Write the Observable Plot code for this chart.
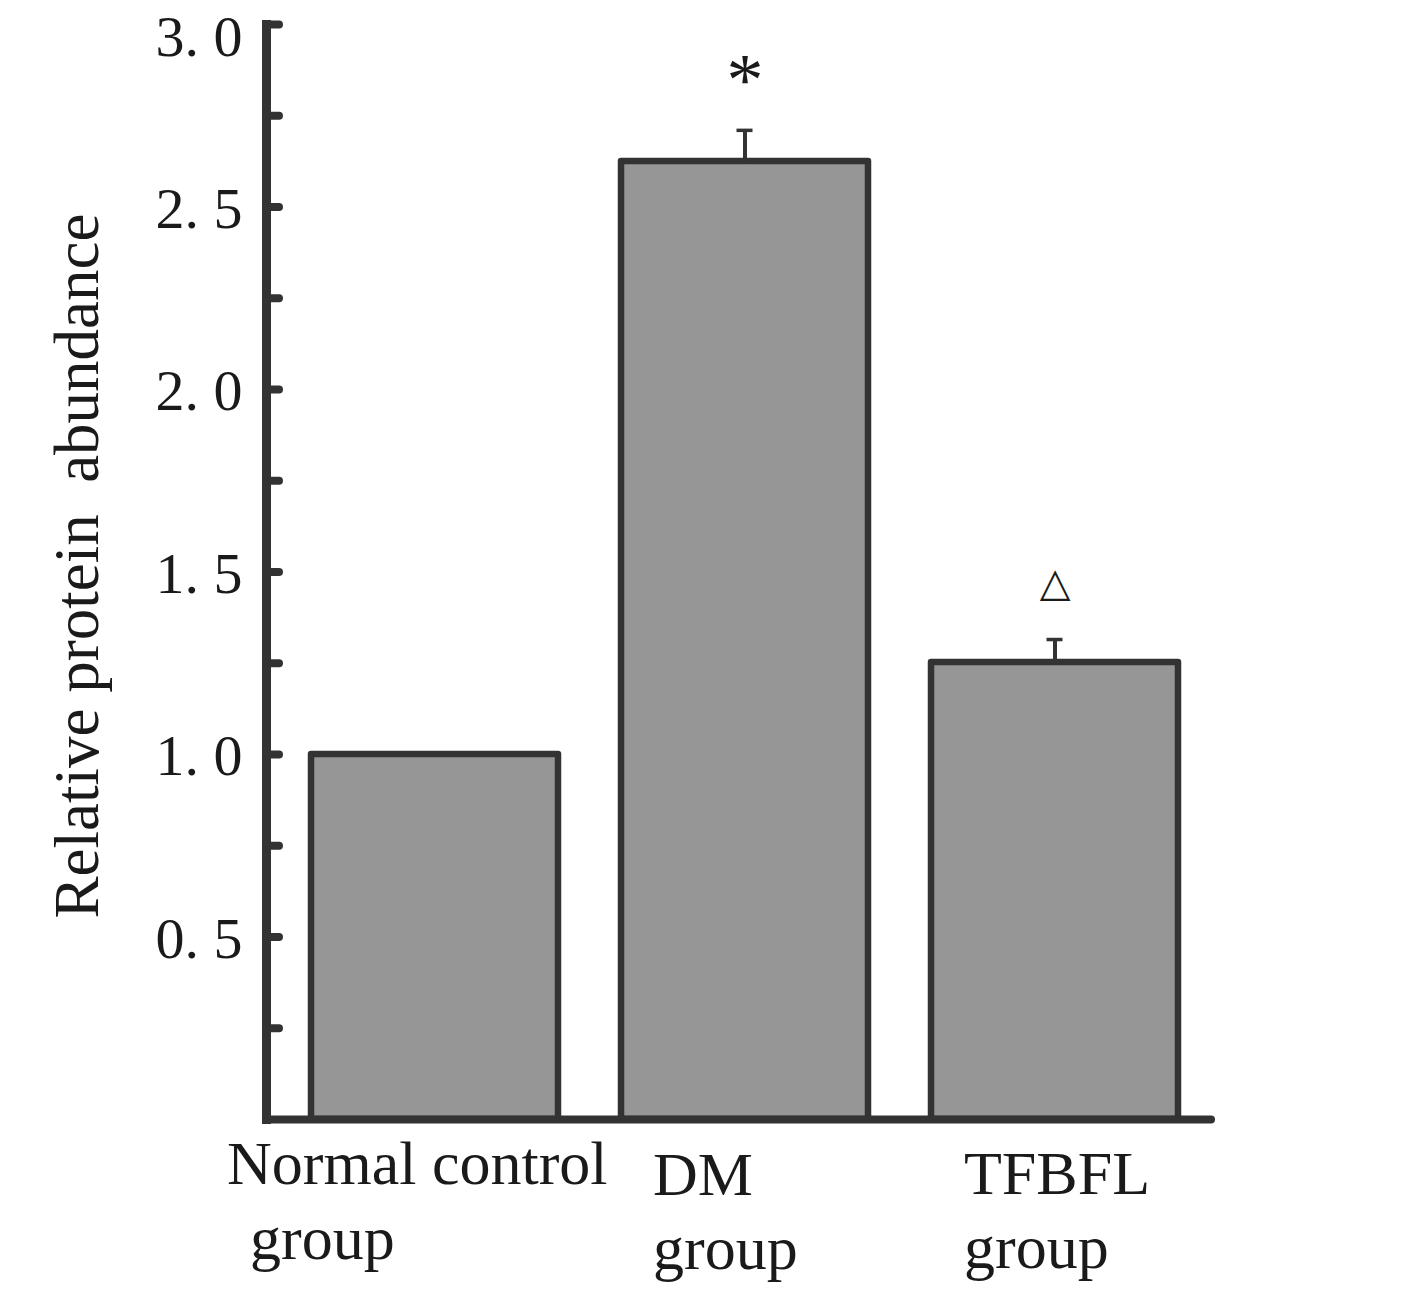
<!DOCTYPE html>
<html>
<head>
<meta charset="utf-8">
<script src="https://cdn.jsdelivr.net/npm/d3@7"></script>
<script src="https://cdn.jsdelivr.net/npm/@observablehq/plot@0.6"></script>
<style>
  html, body { margin: 0; padding: 0; background: #ffffff; }
  #chart svg { display: block; }
</style>
</head>
<body>
<div id="chart"></div>
<script>
// ---- data ----
const categories = ["Normal control group", "DM group", "TFBFL group"];
const labelLine1 = ["Normal control", "DM", "TFBFL"];
const labelLine2 = ["group", "group", "group"];
const means = [1.00, 2.625, 1.252];
const errors = [0, 0.085, 0.063];
const significance = ["", "*", "\u25B3"];
const majorTicks = [0.5, 1.0, 1.5, 2.0, 2.5, 3.0];
const allTicks = [0.25, 0.5, 0.75, 1.0, 1.25, 1.5, 1.75, 2.0, 2.25, 2.5, 2.75, 3.0];
const yLabel = "Relative protein \u00A0abundance";

const rows = categories.map((c, i) => ({
  cat: c, line1: labelLine1[i], line2: labelLine2[i],
  mean: means[i], err: errors[i], top: means[i] + errors[i], sig: significance[i]
}));

// ---- styles ----
const W = 1417, H = 1296;
const mL = 266, mR = 206, mT = 24, mB = 177;
const frameW = W - mL - mR;
const dark = "#333333";
const textColor = "#1a1a1a";
const serif = "'Liberation Serif', 'Times New Roman', serif";
const labelOffsets = [
  {dx1: -208, dy1: 64, dx2: -185, dy2: 139},
  {dx1: -92, dy1: 75, dx2: -92, dy2: 149},
  {dx1: -91, dy1: 74, dx2: -91, dy2: 148}
];
const fmt = d => d.toFixed(1).replace(".", ". ");
const topTick = majorTicks[majorTicks.length - 1];

const labelMarks = rows.flatMap((r, i) => [
  Plot.text([r], {x: "cat", text: "line1", frameAnchor: "bottom", lineAnchor: "bottom",
    textAnchor: "start", dx: labelOffsets[i].dx1, dy: labelOffsets[i].dy1,
    fontSize: 62, fontFamily: serif, fill: textColor}),
  Plot.text([r], {x: "cat", text: "line2", frameAnchor: "bottom", lineAnchor: "bottom",
    textAnchor: "start", dx: labelOffsets[i].dx2, dy: labelOffsets[i].dy2,
    fontSize: 62, fontFamily: serif, fill: textColor})
]);

const withErr = rows.filter(d => d.err > 0);

const chart = Plot.plot({
  width: W, height: H,
  marginLeft: mL, marginRight: mR, marginTop: mT, marginBottom: mB,
  style: {background: "#ffffff", color: textColor, overflow: "visible"},
  x: {domain: categories, paddingInner: 0.2026, paddingOuter: 0.1206, align: 0.58, axis: null},
  y: {domain: [0, 3], axis: null},
  marks: [
    // bars
    Plot.barY(rows, {x: "cat", y: "mean", fill: "#969696", stroke: dark, strokeWidth: 6.5, strokeLinejoin: "round"}),
    // error bars
    Plot.ruleX(withErr, {x: "cat", y1: "mean", y2: "top", stroke: dark, strokeWidth: 4}),
    Plot.tickY(withErr, {x: "cat", y: "top", stroke: dark, strokeWidth: 3.5, insetLeft: 115.5, insetRight: 115.5}),
    // y axis ticks
    Plot.ruleY(allTicks, {y: d => d, stroke: dark, strokeWidth: 8, strokeLinecap: "round", insetRight: frameW - 13}),
    // axis lines
    Plot.ruleY([0], {stroke: dark, strokeWidth: 8, strokeLinecap: "round"}),
    Plot.frame({anchor: "left", stroke: dark, strokeWidth: 9}),
    // y tick labels
    Plot.axisY({ticks: majorTicks.filter(t => t !== topTick), tickSize: 0, tickPadding: 24, fontSize: 58,
      fontFamily: serif, tickFormat: fmt, label: null, dy: 2}),
    Plot.axisY({ticks: [topTick], tickSize: 0, tickPadding: 24, fontSize: 58,
      fontFamily: serif, tickFormat: fmt, label: null, dy: 13}),
    // y axis title
    Plot.text([yLabel], {frameAnchor: "left", rotate: -90, lineAnchor: "bottom", textAnchor: "middle",
      dx: -169, dy: -6, fontSize: 63, fontFamily: serif, fill: textColor}),
    // significance markers
    Plot.text(rows.filter(d => d.sig === "*"), {x: "cat", y: "top", text: "sig", lineAnchor: "bottom",
      dy: -25, fontSize: 74, fontFamily: serif, fill: textColor}),
    Plot.text(rows.filter(d => d.sig === "\u25B3"), {x: "cat", y: "top", text: "sig", lineAnchor: "bottom",
      dy: -44, fontSize: 40, fontFamily: "'DejaVu Sans', sans-serif", fill: textColor}),
    // category labels
    ...labelMarks
  ]
});
document.getElementById("chart").appendChild(chart);
</script>
</body>
</html>
